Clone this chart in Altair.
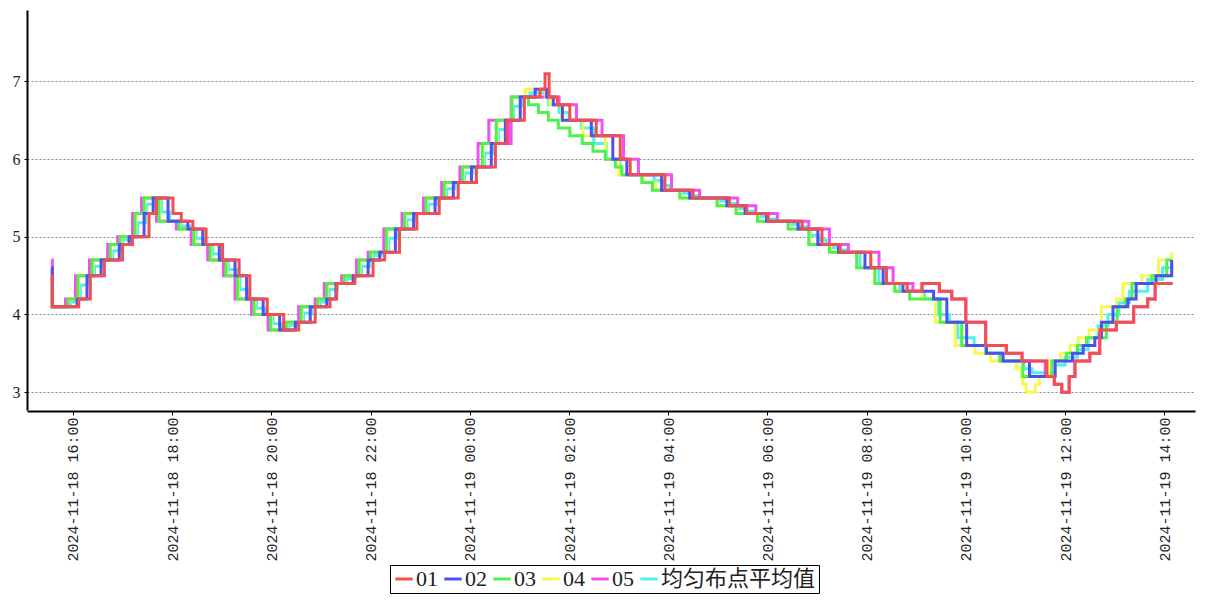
import altair as alt
import pandas as pd

BASE = pd.Timestamp("2024-11-18 16:00")
SERIES = ["01", "02", "03", "04", "05", "均匀布点平均值"]
COLORS = ["#f05050", "#5050f0", "#50f050", "#f8f850", "#f050f0", "#50f0f0"]

# minutes after 2024-11-18 16:00, and values (step series)
T01 = [-26,-25,7,21,38,60,72,92,101,121,131,145,161,181,201,214,235,255,273,293,311,319,341,363,377,395,416,443,466,488,511,525,546,565,571,576,586,601,633,662,674,716,750,794,815,841,882,906,928,965,984,1009,1027,1048,1063,1080,1104,1129,1148,1178,1187,1196,1205,1212,1230,1242,1262,1283,1300,1309,1330]
V01 = [4.5,4.1,4.2,4.5,4.7,4.9,5.0,5.3,5.5,5.3,5.2,5.1,4.9,4.7,4.5,4.2,4.0,3.8,3.9,4.1,4.2,4.4,4.5,4.7,4.8,5.1,5.3,5.5,5.7,5.9,6.2,6.5,6.8,6.9,7.1,6.8,6.7,6.5,6.3,6.0,5.8,5.6,5.5,5.4,5.3,5.2,5.1,4.9,4.8,4.6,4.4,4.3,4.4,4.3,4.2,3.9,3.6,3.5,3.4,3.2,3.1,3.0,3.2,3.4,3.5,3.8,3.9,4.1,4.2,4.4,4.4]

T02 = [-26,-25,5,17,34,56,68,86,97,115,139,157,177,196,210,230,250,269,287,307,318,339,357,371,390,412,438,460,482,506,523,541,559,573,581,592,627,653,670,712,746,791,813,839,877,901,926,958,980,1004,1041,1057,1081,1105,1125,1157,1188,1209,1222,1236,1244,1258,1276,1286,1310,1329]
V02 = [4.6,4.1,4.2,4.5,4.7,4.9,5.0,5.3,5.5,5.2,5.1,4.9,4.7,4.5,4.2,4.0,3.8,3.9,4.1,4.2,4.4,4.5,4.7,4.8,5.1,5.3,5.5,5.7,5.9,6.2,6.5,6.8,6.9,6.8,6.7,6.5,6.3,6.0,5.8,5.6,5.5,5.4,5.3,5.2,5.1,4.9,4.8,4.6,4.4,4.3,4.2,3.9,3.6,3.5,3.4,3.2,3.4,3.5,3.6,3.7,3.9,4.1,4.2,4.4,4.5,4.7]

T03 = [-26,-25,-6,6,23,45,57,75,86,104,128,146,166,185,199,219,239,258,276,296,307,328,346,360,379,401,427,449,471,495,512,531,551,563,575,587,601,616,629,644,656,664,688,701,734,779,802,828,865,890,915,948,970,994,1012,1049,1075,1104,1121,1149,1184,1202,1215,1226,1250,1263,1273,1281,1305,1323,1329]
V03 = [4.5,4.1,4.2,4.5,4.7,4.9,5.0,5.3,5.5,5.2,5.1,4.9,4.7,4.5,4.2,4.0,3.8,3.9,4.1,4.2,4.4,4.5,4.7,4.8,5.1,5.3,5.5,5.7,5.9,6.2,6.5,6.8,6.7,6.6,6.5,6.4,6.3,6.2,6.1,6.0,5.9,5.8,5.7,5.6,5.5,5.4,5.3,5.2,5.1,4.9,4.8,4.6,4.4,4.3,4.2,3.9,3.6,3.5,3.4,3.2,3.4,3.5,3.6,3.7,3.9,4.1,4.2,4.4,4.5,4.7,4.7]

T04 = [-26,-25,-5,7,24,46,58,76,87,105,129,147,167,186,200,220,240,259,277,297,308,329,347,361,380,402,428,450,472,496,513,531,547,572,577,591,617,644,660,690,705,735,780,803,829,866,891,916,948,970,994,1027,1043,1067,1091,1110,1141,1147,1149,1153,1164,1169,1180,1195,1206,1216,1229,1244,1262,1270,1293,1313,1329]
V04 = [4.5,4.1,4.2,4.5,4.7,4.9,5.0,5.3,5.5,5.2,5.1,4.9,4.7,4.5,4.2,4.0,3.8,3.9,4.1,4.2,4.4,4.5,4.7,4.8,5.1,5.3,5.5,5.7,5.9,6.2,6.5,6.8,6.9,6.8,6.7,6.5,6.3,6.0,5.8,5.7,5.6,5.5,5.4,5.3,5.2,5.1,4.9,4.8,4.6,4.4,4.3,4.2,3.9,3.6,3.5,3.4,3.3,3.2,3.1,3.0,3.1,3.2,3.4,3.5,3.6,3.7,3.8,4.1,4.2,4.4,4.5,4.7,4.8]

T05 = [-26,-25,-9,3,20,42,54,72,83,101,125,143,163,182,196,216,236,255,273,293,304,325,343,357,376,398,424,446,468,490,503,527,530,588,609,640,666,684,724,758,804,826,852,890,915,938,975,992,1016,1027,1048,1063,1080,1104,1129,1148,1176,1187,1196,1205,1212,1230,1242,1262,1283,1300,1309,1330]
V05 = [4.7,4.1,4.2,4.5,4.7,4.9,5.0,5.3,5.5,5.2,5.1,4.9,4.7,4.5,4.2,4.0,3.8,3.9,4.1,4.2,4.4,4.5,4.7,4.8,5.1,5.3,5.5,5.7,5.9,6.2,6.5,6.2,6.8,6.7,6.5,6.3,6.0,5.8,5.6,5.5,5.4,5.3,5.2,5.1,4.9,4.8,4.6,4.4,4.3,4.4,4.3,4.2,3.9,3.6,3.5,3.4,3.2,3.1,3.0,3.2,3.4,3.5,3.8,3.9,4.1,4.2,4.4,4.4]

T06 = [-26,-25,-3,7,9,19,26,36,48,58,60,70,78,88,89,99,107,117,131,141,149,159,169,179,188,198,202,212,222,232,242,252,261,271,279,289,299,309,310,320,331,341,349,359,363,373,382,392,404,414,430,440,452,462,474,484,498,508,515,525,533,543,
       553,575,588,600,615,630,645,662,
       703,713,722,737,747,756,782,792,801,804,814,823,830,840,849,868,878,887,892,902,911,917,927,936,
       952,975,1000,1030,1047,1060,1070,1090,1105,1125,1150,1160,1188,1200,1215,1228,1240,1252,1265,1278,1300,1318,1329]
V06 = [4.6,4.1,4.16,4.2,4.38,4.5,4.62,4.7,4.82,4.9,4.96,5.0,5.18,5.3,5.42,5.5,5.32,5.2,5.14,5.1,4.98,4.9,4.78,4.7,4.58,4.5,4.32,4.2,4.08,4.0,3.88,3.8,3.86,3.9,4.02,4.1,4.16,4.2,4.32,4.4,4.46,4.5,4.62,4.7,4.76,4.8,4.98,5.1,5.22,5.3,5.42,5.5,5.62,5.7,5.82,5.9,6.08,6.2,6.38,6.5,6.68,6.8,
       6.85,6.7,6.6,6.5,6.4,6.2,6.0,5.8,
       5.72,5.66,5.6,5.56,5.53,5.5,5.46,5.43,5.4,5.36,5.33,5.3,5.26,5.23,5.2,5.16,5.13,5.1,5.02,4.96,4.9,4.86,4.83,4.8,
       4.6,4.4,4.3,4.2,4.0,3.9,3.7,3.6,3.5,3.4,3.3,3.25,3.35,3.45,3.55,3.7,3.85,4.0,4.15,4.3,4.45,4.6,4.7]

TIMES = [T01, T02, T03, T04, T05, T06]
VALUES = [V01, V02, V03, V04, V05, V06]

rows = []
for name, ts, vs in zip(SERIES, TIMES, VALUES):
    for t, v in zip(ts, vs):
        rows.append({"series": name, "time": BASE + pd.Timedelta(minutes=t), "value": v})
df = pd.DataFrame(rows)

tick_vals = []
for d, h in [(18, 16), (18, 18), (18, 20), (18, 22), (19, 0), (19, 2), (19, 4),
             (19, 6), (19, 8), (19, 10), (19, 12), (19, 14)]:
    tick_vals.append(alt.DateTime(year=2024, month=11, date=d, hours=h))

x_dom = [alt.DateTime(year=2024, month=11, date=18, hours=15, minutes=4, seconds=24),
         alt.DateTime(year=2024, month=11, date=19, hours=14, minutes=37, seconds=12)]

xaxis = alt.Axis(values=tick_vals, format="%Y-%m-%d %H:%M", formatType="time",
                 labelAngle=270, labelFont="Liberation Mono", labelFontSize=15,
                 labelColor="#222222", domainColor="black", domainWidth=2,
                 tickColor="black", tickSize=4, labelPadding=2, grid=False,
                 offset=1, labelOverlap=False, labelFlush=False, title=None)
yaxis = alt.Axis(values=[3, 4, 5, 6, 7], grid=True, gridColor="#888888",
                 gridDash=[2, 2], gridWidth=1, domainColor="black", domainWidth=2,
                 tickColor="black", tickSize=3, labelFont="Liberation Serif",
                 labelFontSize=16, labelColor="#222222", labelPadding=4, title=None)
legend = alt.Legend(orient="none", legendX=363, legendY=555, direction="horizontal",
                    columns=6, symbolType="stroke", symbolStrokeWidth=3, symbolSize=300,
                    labelFont="'Liberation Serif', 'Noto Sans CJK SC'", labelFontSize=22,
                    labelColor="#222222", strokeColor="black", fillColor="white",
                    padding=3, columnPadding=0, labelOffset=1, labelLimit=0, title=None)

base = alt.Chart(df).encode(
    x=alt.X("time:T", scale=alt.Scale(domain=x_dom), axis=xaxis),
    y=alt.Y("value:Q", scale=alt.Scale(domain=[2.77, 7.92], nice=False, zero=False), axis=yaxis),
    color=alt.Color("series:N", scale=alt.Scale(domain=SERIES, range=COLORS), legend=legend),
)

layers = [base.transform_filter(alt.datum.series == s).mark_line(interpolate="step-after", strokeWidth=3)
          for s in reversed(SERIES)]

chart = alt.layer(*layers).properties(
    width=1168, height=400,
    autosize=alt.AutoSizeParams(type="none"),
    padding={"left": 19, "top": 2, "right": 4, "bottom": 190},
    background="white",
).configure_view(stroke=None)

chart.save("out.html", embed_options={"renderer": "svg", "actions": False})
